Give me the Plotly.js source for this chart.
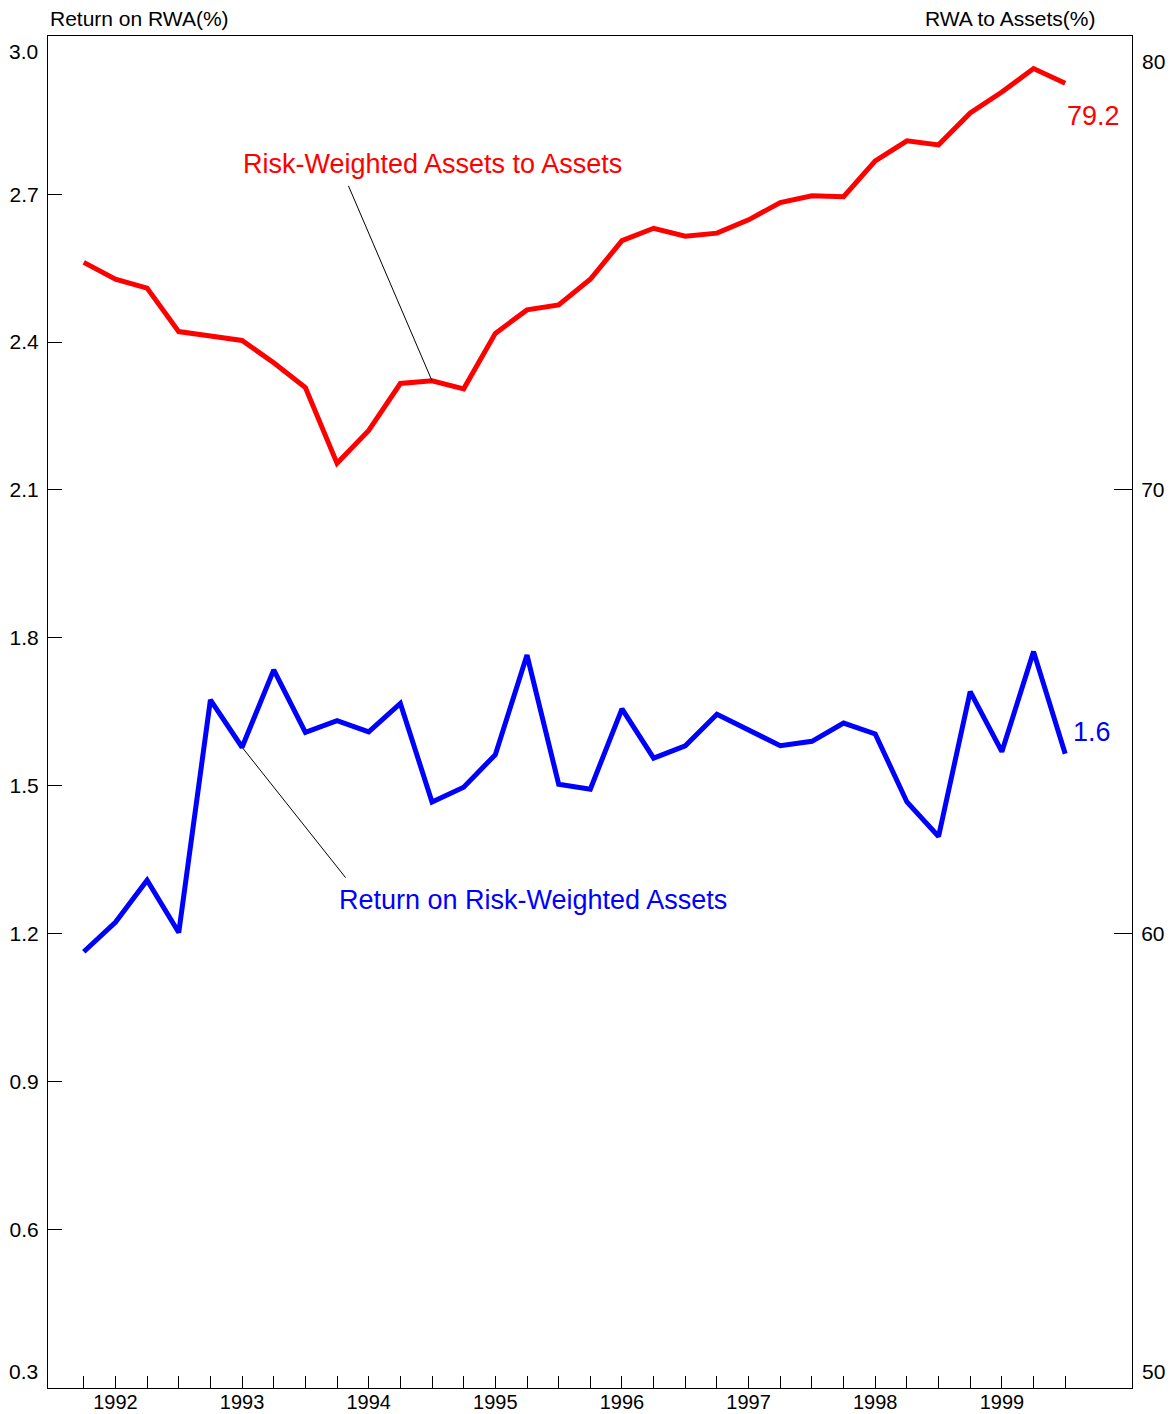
<!DOCTYPE html>
<html>
<head>
<meta charset="utf-8">
<script src="https://cdn.plot.ly/plotly-3.0.1.min.js"></script>
<style>html,body{margin:0;padding:0;background:#fff;}#chart{width:1175px;height:1414px;}</style>
</head>
<body>
<div id="chart"></div>
<script>
const quarters = ['1991Q4',
  '1992Q1','1992Q2','1992Q3','1992Q4',
  '1993Q1','1993Q2','1993Q3','1993Q4',
  '1994Q1','1994Q2','1994Q3','1994Q4',
  '1995Q1','1995Q2','1995Q3','1995Q4',
  '1996Q1','1996Q2','1996Q3','1996Q4',
  '1997Q1','1997Q2','1997Q3','1997Q4',
  '1998Q1','1998Q2','1998Q3','1998Q4',
  '1999Q1','1999Q2','1999Q3'];
const yearLabelQuarters = ['1992Q1','1993Q1','1994Q1','1995Q1','1996Q1','1997Q1','1998Q1','1999Q1'];
const majorTickQuarters = ['1992Q3','1993Q3','1994Q3','1995Q3','1996Q3','1997Q3','1998Q3','1999Q3'];

// Return on Risk-Weighted Assets (%), left axis
const roaValues = [1.163,1.223,1.308,1.202,1.674,1.578,1.735,1.608,1.632,1.609,1.667,1.467,1.497,1.563,1.765,1.503,
                   1.493,1.656,1.556,1.581,1.645,1.613,1.581,1.590,1.627,1.605,1.467,1.397,1.691,1.569,1.772,1.565];
// Risk-Weighted Assets to Assets (%), right axis
const rwaValues = [75.13,74.75,74.55,73.57,73.47,73.37,72.87,72.31,70.60,71.34,72.40,72.46,72.28,73.53,74.06,74.17,
                   74.75,75.62,75.90,75.72,75.79,76.09,76.48,76.63,76.61,77.42,77.87,77.78,78.50,78.97,79.50,79.17];

const leftTicks = [0.3,0.6,0.9,1.2,1.5,1.8,2.1,2.4,2.7,3.0];
const rightTicks = [50,60,70,80];

const roaName = 'Return on Risk-Weighted Assets';
const rwaName = 'Risk-Weighted Assets to Assets';
const leftTitle = 'Return on RWA(%)';
const rightTitle = 'RWA to Assets(%)';

const FONT = 'Liberation Sans, Arial, Helvetica, sans-serif';
const xRange = [-1.13, 33.11];
const last = quarters.length - 1;
const TICK = 21, LABEL = 27;

const traces = [
  {x: quarters, y: rwaValues, type: 'scatter', mode: 'lines', name: rwaName,
   line: {color: '#ff0000', width: 5}, yaxis: 'y2', hoverinfo: 'skip'},
  {x: quarters, y: roaValues, type: 'scatter', mode: 'lines', name: roaName,
   line: {color: '#0000ff', width: 5}, yaxis: 'y', hoverinfo: 'skip'}
];

const innerLeft = leftTicks.slice(1, -1);
const innerRight = rightTicks.slice(1, -1);

const annotations = [
  // axis titles
  {xref: 'paper', yref: 'paper', x: 0, y: 1, xanchor: 'left', yanchor: 'middle', yshift: 18,
   text: leftTitle, showarrow: false, font: {family: FONT, size: TICK, color: '#000'}},
  {xref: 'paper', yref: 'paper', x: 1, y: 1, xanchor: 'right', yanchor: 'middle', yshift: 18, xshift: -35,
   text: rightTitle, showarrow: false, font: {family: FONT, size: TICK, color: '#000'}},
  // end tick labels (drawn inset as in the reference)
  {xref: 'paper', yref: 'y', x: 0, y: leftTicks[leftTicks.length-1], xanchor: 'right', yanchor: 'middle',
   xshift: -8, yshift: -5, text: leftTicks[leftTicks.length-1].toFixed(1), showarrow: false,
   font: {family: FONT, size: TICK, color: '#000'}},
  {xref: 'paper', yref: 'y', x: 0, y: leftTicks[0], xanchor: 'right', yanchor: 'middle',
   xshift: -8, yshift: 6, text: leftTicks[0].toFixed(1), showarrow: false,
   font: {family: FONT, size: TICK, color: '#000'}},
  {xref: 'paper', yref: 'y2', x: 1, y: rightTicks[rightTicks.length-1], xanchor: 'left', yanchor: 'middle',
   xshift: 8, yshift: -15, text: String(rightTicks[rightTicks.length-1]), showarrow: false,
   font: {family: FONT, size: TICK, color: '#000'}},
  {xref: 'paper', yref: 'y2', x: 1, y: rightTicks[0], xanchor: 'left', yanchor: 'middle',
   xshift: 8, yshift: 6, text: String(rightTicks[0]), showarrow: false,
   font: {family: FONT, size: TICK, color: '#000'}},
  // series labels
  {xref: 'x', yref: 'y2', x: quarters[11], y: rwaValues[11], xanchor: 'center', yanchor: 'middle',
   yshift: 217, text: rwaName, showarrow: false, font: {family: FONT, size: LABEL, color: '#ff0000'}},
  {xref: 'x', yref: 'y2', x: quarters[11], y: rwaValues[11], text: ' ', font: {size: 1}, borderpad: 0,
   showarrow: true, arrowhead: 0, arrowwidth: 1, arrowcolor: '#000', standoff: 0, ax: -84, ay: -196},
  {xref: 'x', yref: 'y', x: quarters[5], y: roaValues[5], xanchor: 'left', yanchor: 'middle',
   xshift: 95, yshift: -153, text: roaName, showarrow: false, font: {family: FONT, size: LABEL, color: '#0000ff'}},
  {xref: 'x', yref: 'y', x: quarters[5], y: roaValues[5], text: ' ', font: {size: 1}, borderpad: 0,
   showarrow: true, arrowhead: 0, arrowwidth: 1, arrowcolor: '#000', standoff: 0, ax: 104, ay: 131},
  // end value labels
  {xref: 'x', yref: 'y2', x: quarters[last], y: rwaValues[last], xanchor: 'left', yanchor: 'middle',
   xshift: 0, yshift: -33, text: rwaValues[last].toFixed(1), showarrow: false,
   font: {family: FONT, size: LABEL, color: '#ff0000'}},
  {xref: 'x', yref: 'y', x: quarters[last], y: roaValues[last], xanchor: 'left', yanchor: 'middle',
   xshift: 6, yshift: 22, text: roaValues[last].toFixed(1), showarrow: false,
   font: {family: FONT, size: LABEL, color: '#0000ff'}}
];

const layout = {
  width: 1175, height: 1414,
  margin: {l: 48, r: 43, t: 36, b: 26, pad: 0},
  paper_bgcolor: '#ffffff', plot_bgcolor: '#ffffff',
  showlegend: false,
  font: {family: FONT, size: TICK, color: '#000'},
  xaxis: {
    type: 'category', categoryorder: 'array', categoryarray: quarters,
    range: xRange, autorange: false,
    tickmode: 'array', tickvals: quarters,
    ticktext: quarters.map(q => yearLabelQuarters.includes(q) ? q.slice(0, 4) : ''),
    ticks: 'inside', ticklen: 12, tickwidth: 1, tickcolor: '#000',
    ticklabelstandoff: -4,
    tickfont: {family: FONT, size: 20, color: '#000'},
    showline: true, mirror: true, linecolor: '#000', linewidth: 1,
    showgrid: false, zeroline: false, automargin: false, fixedrange: true
  },
  xaxis2: {
    overlaying: 'x', anchor: 'y', side: 'bottom', type: 'linear',
    range: xRange, autorange: false,
    tickmode: 'array', tickvals: majorTickQuarters.map(q => quarters.indexOf(q)),
    ticks: 'inside', ticklen: 18, tickwidth: 1, tickcolor: '#000',
    showticklabels: false, showline: false, showgrid: false, zeroline: false, automargin: false
  },
  yaxis: {
    range: [0.278, 3.021], autorange: false,
    tickmode: 'array', tickvals: innerLeft, ticktext: innerLeft.map(v => v.toFixed(1)),
    ticks: 'inside', ticklen: 14, tickwidth: 1, tickcolor: '#000',
    ticklabelstandoff: 4,
    tickfont: {family: FONT, size: TICK, color: '#000'},
    showline: true, linecolor: '#000', linewidth: 1,
    showgrid: false, zeroline: false, automargin: false, fixedrange: true
  },
  yaxis2: {
    overlaying: 'y', side: 'right', anchor: 'x',
    range: [49.755, 80.234], autorange: false,
    tickmode: 'array', tickvals: innerRight, ticktext: innerRight.map(v => String(v)),
    ticks: 'inside', ticklen: 18, tickwidth: 1, tickcolor: '#000',
    ticklabelstandoff: 4,
    tickfont: {family: FONT, size: TICK, color: '#000'},
    showline: true, linecolor: '#000', linewidth: 1,
    showgrid: false, zeroline: false, automargin: false, fixedrange: true
  },
  annotations: annotations
};

Plotly.newPlot('chart', traces, layout, {staticPlot: true, displayModeBar: false});
</script>
</body>
</html>
